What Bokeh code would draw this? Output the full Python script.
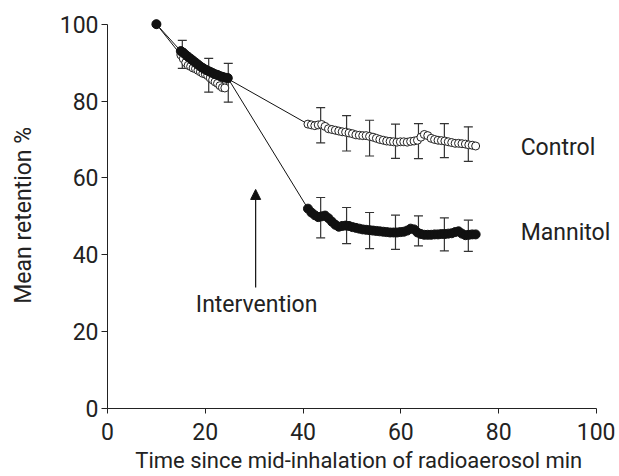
from bokeh.plotting import figure
from bokeh.models import ColumnDataSource, Whisker, TeeHead, Arrow, NormalHead, Label, Range1d, FixedTicker
from bokeh.embed import file_html
from bokeh.resources import INLINE

FONT = "Roboto"

# ---- data ----
start_t = [10.0]
start_v = [100.0]

early_t = [15.0, 15.5, 16.0, 16.5, 17.0, 17.5, 18.0, 18.5, 19.0, 19.5,
           20.0, 20.5, 21.0, 21.5, 22.0, 22.5, 23.0, 23.5, 24.0, 24.6]
control_early = [92.0, 91.0, 90.0, 89.3, 89.0, 88.6, 88.4, 88.0, 87.6, 87.2,
                 87.0, 86.6, 86.0, 85.5, 85.0, 84.6, 84.0, 83.5, 83.4, 85.8]
mannitol_early = [93.0, 92.6, 92.0, 91.5, 91.0, 90.5, 90.0, 89.5, 89.0, 88.6,
                  88.2, 87.9, 87.6, 87.3, 87.0, 86.8, 86.5, 86.3, 86.1, 86.0]

late_t = [41.0, 41.7, 42.4, 43.1, 43.8, 44.5, 45.2, 45.9, 46.6, 47.3,
          48.0, 48.7, 49.4, 50.1, 50.8, 51.5, 52.2, 52.9, 53.6, 54.3,
          55.0, 55.7, 56.4, 57.1, 57.8, 58.5, 59.2, 59.9, 60.6, 61.3,
          62.0, 62.7, 63.4, 64.1, 64.8, 65.5, 66.2, 66.9, 67.6, 68.3,
          69.0, 69.7, 70.4, 71.1, 71.8, 72.5, 73.2, 73.9, 74.6, 75.3]
control_late = [74.0, 73.8, 73.6, 73.8, 73.9, 73.4, 72.8, 72.6, 72.4, 72.2,
                72.0, 71.9, 71.7, 71.5, 71.2, 71.1, 71.0, 71.0, 70.8, 70.6,
                70.3, 70.0, 69.8, 69.6, 69.5, 69.4, 69.3, 69.4, 69.4, 69.3,
                69.5, 69.6, 69.8, 70.6, 71.3, 71.0, 70.3, 70.0, 69.8, 69.7,
                69.6, 69.4, 69.2, 69.0, 69.0, 68.9, 68.8, 68.6, 68.5, 68.3]
mannitol_late = [52.0, 51.0, 50.3, 49.8, 50.0, 50.2, 49.5, 48.6, 47.8, 47.3,
                 47.5, 47.6, 47.5, 47.2, 47.0, 46.8, 46.6, 46.5, 46.4, 46.3,
                 46.2, 46.1, 46.0, 45.9, 45.8, 45.8, 45.8, 45.9, 46.0, 46.3,
                 46.8, 46.6, 45.8, 45.4, 45.2, 45.2, 45.2, 45.3, 45.3, 45.4,
                 45.4, 45.5, 45.6, 45.9, 46.1, 45.5, 45.1, 45.2, 45.3, 45.3]

err_early_t = [15.3, 20.7, 24.7]
err_early_lo = [88.5, 82.3, 79.7]
err_early_hi = [95.8, 91.1, 89.8]

err_late_t = [43.6, 48.9, 53.6, 58.9, 63.6, 68.9, 73.8]
control_err_lo = [69.1, 67.0, 65.7, 65.1, 65.0, 65.3, 64.3]
control_err_hi = [78.3, 76.2, 75.0, 74.0, 74.1, 74.1, 73.3]
mannitol_err_lo = [44.4, 42.9, 41.6, 41.4, 42.3, 41.0, 40.9]
mannitol_err_hi = [54.9, 52.3, 51.0, 50.3, 50.1, 49.6, 49.0]

x_ticks = [0, 20, 40, 60, 80, 100]
y_ticks = [0, 20, 40, 60, 80, 100]

# ---- figure ----
p = figure(width=615, height=476, output_backend="svg", toolbar_location=None,
           x_range=Range1d(0, 103.9), y_range=Range1d(0, 102),
           min_border_left=107, min_border_right=0, min_border_top=16, min_border_bottom=68)
p.outline_line_color = None
p.xgrid.visible = False
p.ygrid.visible = False
p.background_fill_color = "white"

for ax in (p.xaxis[0], p.yaxis[0]):
    ax.axis_line_color = "#222222"
    ax.major_tick_line_color = "#222222"
    ax.minor_tick_line_color = None
    ax.major_tick_in = 0
    ax.major_tick_out = 6
    ax.major_label_text_font = FONT
    ax.major_label_text_font_size = "23px"
    ax.major_label_text_color = "#222222"
    ax.axis_label_text_font = FONT
    ax.axis_label_text_font_style = "normal"
    ax.axis_label_text_color = "#222222"

p.xaxis.ticker = FixedTicker(ticks=x_ticks)
p.yaxis.ticker = FixedTicker(ticks=y_ticks)
p.xaxis.bounds = (0, 100)
p.yaxis.bounds = (0, 100)
p.xaxis.major_tick_out = 5
p.xaxis.major_label_standoff = 9
p.xaxis.axis_label_standoff = 5
p.xaxis.axis_label_text_font_size = "22px"
p.yaxis.major_label_standoff = 3
p.yaxis.axis_label_standoff = 20
p.yaxis.axis_label_text_font_size = "23px"
p.xaxis.axis_label = "Time since mid-inhalation of radioaerosol  min"
p.yaxis.axis_label = "Mean retention  %"

control_t = start_t + early_t + late_t
control_v = start_v + control_early + control_late
mannitol_t = start_t + early_t + late_t
mannitol_v = start_v + mannitol_early + mannitol_late

src_c = ColumnDataSource(dict(t=control_t, v=control_v))
src_m = ColumnDataSource(dict(t=mannitol_t, v=mannitol_v))

p.line("t", "v", source=src_c, line_color="#111111", line_width=1)
p.line("t", "v", source=src_m, line_color="#111111", line_width=1)

def add_err(ts, lo, hi):
    s = ColumnDataSource(dict(base=ts, lower=lo, upper=hi))
    w = Whisker(source=s, base="base", lower="lower", upper="upper", dimension="height",
                line_color="#333333", line_width=1.2,
                upper_head=TeeHead(size=9, line_color="#333333", line_width=1.2),
                lower_head=TeeHead(size=9, line_color="#333333", line_width=1.2))
    p.add_layout(w)

add_err(err_early_t, err_early_lo, err_early_hi)
add_err(err_late_t, control_err_lo, control_err_hi)
add_err(err_late_t, mannitol_err_lo, mannitol_err_hi)

p.scatter("t", "v", source=src_c, size=8, fill_color="white", line_color="#222222", line_width=1)
p.scatter("t", "v", source=src_m, size=9, fill_color="#111111", line_color="#111111")

# arrow
p.add_layout(Arrow(end=NormalHead(size=10, fill_color="#111111", line_color="#111111"),
                   x_start=30.3, y_start=31.5, x_end=30.3, y_end=57.0,
                   line_color="#111111", line_width=1.2))

def lab(x, y, txt, align="left", baseline="alphabetic", size="23px"):
    p.add_layout(Label(x=x, y=y, text=txt, text_font=FONT, text_font_size=size,
                       text_color="#222222", text_align=align, text_baseline=baseline))

lab(30.5, 27.1, "Intervention", align="center")
lab(84.5, 67.9, "Control")
lab(84.5, 45.9, "Mannitol")

open("out.html", "w").write(file_html(p, INLINE))
